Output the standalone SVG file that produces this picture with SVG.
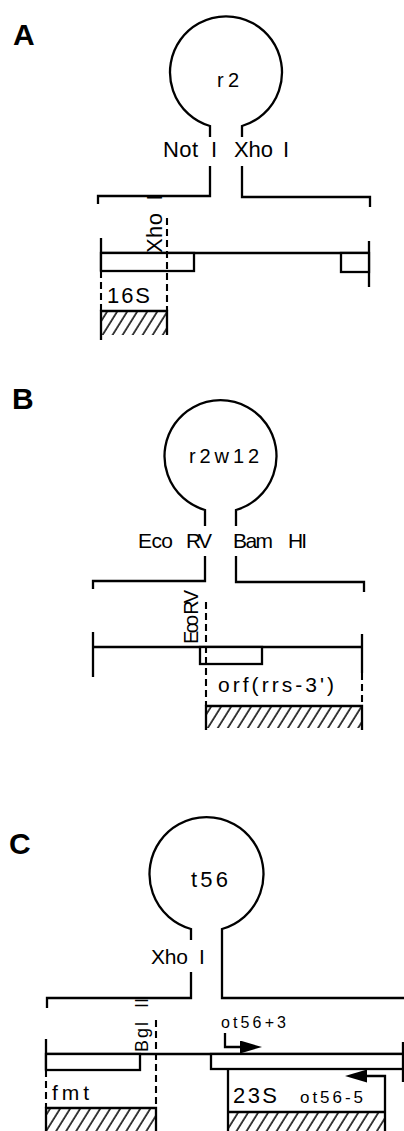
<svg xmlns="http://www.w3.org/2000/svg" width="404" height="1131" viewBox="0 0 404 1131">
<style>
.ln{fill:none;stroke:#000;stroke-width:2.3;stroke-linecap:butt;stroke-linejoin:miter}
.dsh{fill:none;stroke:#000;stroke-width:2.1;stroke-dasharray:7 4}
.box{fill:#fff;stroke:#000;stroke-width:2.3}
.hat{fill:url(#hatch);stroke:none}
.t{font-family:"Liberation Sans",Arial,Helvetica,sans-serif;fill:#000}
.lab{font-family:"Liberation Sans",Arial,Helvetica,sans-serif;font-weight:bold;font-size:30px;fill:#000}
</style>
<defs>
<pattern id="hatch" patternUnits="userSpaceOnUse" width="8.5" height="10" patternTransform="rotate(32)">
<line x1="1" y1="0" x2="1" y2="10" stroke="#000" stroke-width="1.5"/>
</pattern>
<marker id="ah" markerUnits="userSpaceOnUse" markerWidth="22" markerHeight="13" refX="15" refY="6.5" orient="auto">
<path d="M0,0 L22,6.5 L0,13 z" fill="#000"/>
</marker>
</defs>
<rect width="404" height="1131" fill="#fff"/>

<g id="panelA">
<text class="lab" x="13" y="45">A</text>
<g id="loopA">
<path class="ln" d="M210,137 V126 A56,56 0 1 1 242,126 V137"/>
<text class="t" x="217" y="87" font-size="20" textLength="22">r2</text>
</g>
<g id="bracketA">
<path class="ln" d="M210,166 V196 H98 V204"/>
<path class="ln" d="M242,166 V197 H370 V207"/>
<text class="t" x="163" y="157" font-size="22" textLength="35">Not</text>
<text class="t" x="211" y="157" font-size="22">I</text>
<text class="t" x="234" y="157" font-size="22" textLength="39">Xho</text>
<text class="t" x="283" y="157" font-size="22">I</text>
</g>
<g id="mapA">
<path class="ln" d="M101,253 H369"/>
<path class="ln" d="M101,238 V271"/>
<path class="dsh" d="M101,271 V311"/>
<path class="ln" d="M369,241 V287"/>
<rect class="box" x="101" y="253" width="93" height="18"/>
<rect class="box" x="341" y="253" width="28" height="19"/>
<path class="dsh" d="M167,218 V311"/>
<text class="t" font-size="22" transform="translate(162,253) rotate(-90)"><tspan textLength="40">Xho</tspan><tspan dx="12">I</tspan></text>
</g>
<g id="gene16S">
<text class="t" x="107" y="303" font-size="22" textLength="43">16S</text>
<rect class="hat" x="101" y="311" width="66" height="24"/>
<path class="ln" d="M101,340 V311 H167 V335"/>
</g>
</g>

<g id="panelB">
<text class="lab" x="12" y="409">B</text>
<g id="loopB">
<path class="ln" d="M205,526 V510 A56,56 0 1 1 236,510 V526"/>
<text class="t" x="189" y="463" font-size="20" textLength="70">r2w12</text>
</g>
<g id="bracketB">
<path class="ln" d="M205,556 V581 H93 V589"/>
<path class="ln" d="M236,556 V582 H364 V592"/>
<text class="t" x="138" y="548" font-size="21" textLength="35">Eco</text>
<text class="t" x="186" y="548" font-size="21" textLength="26">RV</text>
<text class="t" x="233" y="548" font-size="21" textLength="40">Bam</text>
<text class="t" x="288" y="548" font-size="21" textLength="19">HI</text>
</g>
<g id="mapB">
<path class="ln" d="M93,647 H362"/>
<path class="ln" d="M93,632 V677"/>
<path class="ln" d="M362,634 V673"/>
<path class="dsh" d="M362,673 V706"/>
<rect class="box" x="200" y="647" width="62" height="17"/>
<path class="dsh" d="M206,602 V706"/>
<text class="t" font-size="20" transform="translate(198,644) rotate(-90)" textLength="54">Eco RV</text>
</g>
<g id="geneOrf">
<text class="t" x="218" y="692" font-size="21" textLength="116">orf(rrs-3')</text>
<rect class="hat" x="206" y="706" width="156" height="22"/>
<path class="ln" d="M206,730 V706 H362 V730"/>
</g>
</g>

<g id="panelC">
<text class="lab" x="9" y="854">C</text>
<g id="loopC">
<path class="ln" d="M191,940 V929 A57,57 0 1 1 222,929 V998 H404"/>
<text class="t" x="191" y="887" font-size="22" textLength="37">t56</text>
</g>
<g id="bracketC">
<path class="ln" d="M191,972 V998 H47 V1008"/>
<text class="t" x="151" y="964" font-size="21" textLength="37">Xho</text>
<text class="t" x="199" y="964" font-size="21">I</text>
</g>
<g id="mapC">
<path class="ln" d="M47,1054 H404"/>
<path class="ln" d="M46,1039 V1070"/>
<path class="dsh" d="M46,1070 V1108"/>
<rect class="box" x="46" y="1054" width="94" height="16"/>
<rect class="box" x="211" y="1054" width="196" height="15"/>
<path class="ln" d="M403,1042 V1082"/>
<path class="dsh" d="M156,1020 V1108"/>
<text class="t" font-size="18" transform="translate(148,1052) rotate(-90)"><tspan textLength="30">Bgl</tspan><tspan dx="12">II</tspan></text>
</g>
<g id="geneFmt">
<text class="t" x="52" y="1100" font-size="21" textLength="37">fmt</text>
<rect class="hat" x="46" y="1108" width="110" height="25"/>
<path class="ln" d="M46,1133 V1108 H156 V1133"/>
</g>
<g id="gene23S">
<path class="ln" d="M228,1069 V1133"/>
<text class="t" x="233" y="1103" font-size="22" textLength="44">23S</text>
<rect class="hat" x="228" y="1112" width="157" height="21"/>
<path class="ln" d="M228,1112 H385"/>
<text class="t" x="221" y="1028" font-size="16" textLength="65">ot56+3</text>
<text class="t" x="300" y="1103" font-size="17" textLength="63">ot56-5</text>
</g>
</g>

<g id="connectors">
<path class="ln" d="M225,1033 V1047 H255" marker-end="url(#ah)"/>
<path class="ln" d="M385,1133 V1076 H352" marker-end="url(#ah)"/>
</g>
</svg>
